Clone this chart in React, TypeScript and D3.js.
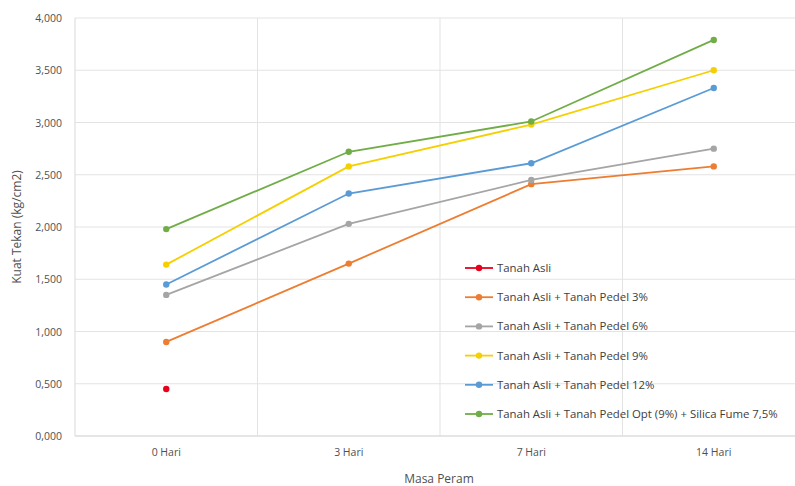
import React from "react";
import * as d3 from "d3";

const categories = ["0 Hari", "3 Hari", "7 Hari", "14 Hari"];
const seriesNames = [
  "Tanah Asli",
  "Tanah Asli + Tanah Pedel 3%",
  "Tanah Asli + Tanah Pedel 6%",
  "Tanah Asli + Tanah Pedel 9%",
  "Tanah Asli + Tanah Pedel 12%",
  "Tanah Asli + Tanah Pedel Opt (9%) + Silica Fume 7,5%",
];
const tanahAsli: (number | null)[] = [0.45, null, null, null];
const pedel3: (number | null)[] = [0.9, 1.65, 2.41, 2.58];
const pedel6: (number | null)[] = [1.35, 2.03, 2.45, 2.75];
const pedel9: (number | null)[] = [1.64, 2.58, 2.98, 3.5];
const pedel12: (number | null)[] = [1.45, 2.32, 2.61, 3.33];
const silica: (number | null)[] = [1.98, 2.72, 3.01, 3.79];
const seriesValues = [tanahAsli, pedel3, pedel6, pedel9, pedel12, silica];
const colors = ["#e8001c", "#ed7d31", "#a5a5a5", "#f5d000", "#5b9bd5", "#70ad47"];
const yTicks = [0, 0.5, 1, 1.5, 2, 2.5, 3, 3.5, 4];

const W = 795;
const H = 486;
const left = 75;
const right = 805;
const top = 18;
const bottom = 436;

export default function App() {
  const x = d3.scaleBand<string>().domain(categories).range([left, right]);
  const y = d3.scaleLinear().domain([0, 4]).range([bottom, top]);
  const fmt = (v: number) => d3.format(".3f")(v).replace(".", ",");
  const font = "'Open Sans', 'Noto Sans', sans-serif";
  const line = d3
    .line<number | null>()
    .defined((d) => d != null)
    .x((_, i) => (x(categories[i]) as number) + x.bandwidth() / 2)
    .y((d) => y(d as number));

  const legX = 465;
  const legY0 = 268;
  const legStep = 29.2;

  return (
    <svg
      width={W}
      height={H}
      style={{ position: "absolute", left: 0, top: 0, background: "#fff" }}
      fontFamily={font}
    >
      <rect width={W} height={H} fill="#fff" />
      {yTicks.map((t) => (
        <line key={"g" + t} x1={left} x2={right} y1={y(t)} y2={y(t)} stroke="#e3e3e3" strokeWidth={1} />
      ))}
      {categories.slice(1).map((c) => (
        <line
          key={"v" + c}
          x1={x(c) as number}
          x2={x(c) as number}
          y1={top}
          y2={bottom}
          stroke="#e3e3e3"
          strokeWidth={1}
        />
      ))}
      <line x1={left} x2={left} y1={top} y2={bottom} stroke="#d9d9d9" />
      <line x1={left} x2={right} y1={bottom} y2={bottom} stroke="#d9d9d9" />
      {yTicks.map((t) => (
        <text key={"t" + t} x={62} y={y(t) + 4} fontSize={10.5} textAnchor="end" fill="#505050">
          {fmt(t)}
        </text>
      ))}
      {categories.map((c) => (
        <text
          key={"c" + c}
          x={(x(c) as number) + x.bandwidth() / 2}
          y={456}
          fontSize={10.5}
          textAnchor="middle"
          fill="#505050"
        >
          {c}
        </text>
      ))}
      <text x={439} y={483} fontSize={12} textAnchor="middle" fill="#505050">
        Masa Peram
      </text>
      <text
        transform={`translate(21,${(top + bottom) / 2}) rotate(-90)`}
        fontSize={12}
        textAnchor="middle"
        fill="#505050"
      >
        Kuat Tekan (kg/cm2)
      </text>
      {seriesValues.map((vals, si) => (
        <g key={"s" + si}>
          <path d={line(vals) || ""} fill="none" stroke={colors[si]} strokeWidth={1.8} />
          {vals.map((v, i) =>
            v == null ? null : (
              <circle
                key={i}
                cx={(x(categories[i]) as number) + x.bandwidth() / 2}
                cy={y(v)}
                r={3.2}
                fill={colors[si]}
              />
            )
          )}
        </g>
      ))}
      {seriesNames.map((n, i) => (
        <g key={"l" + i} transform={`translate(${legX},${legY0 + i * legStep})`}>
          <line x1={0} x2={28} y1={0} y2={0} stroke={colors[i]} strokeWidth={1.8} />
          <circle cx={14} cy={0} r={3.2} fill={colors[i]} />
          <text x={32} y={4} fontSize={11.4} fill="#404040">
            {n}
          </text>
        </g>
      ))}
    </svg>
  );
}
